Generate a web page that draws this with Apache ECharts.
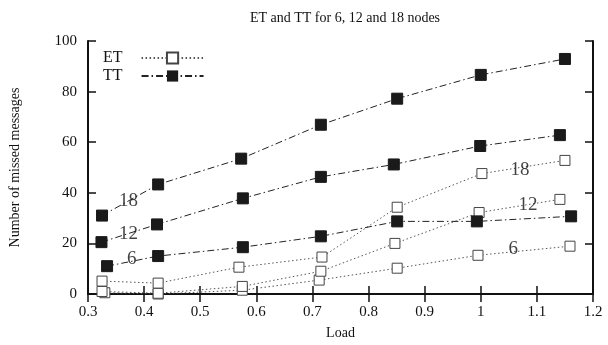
<!DOCTYPE html>
<html>
<head>
<meta charset="utf-8">
<script src="https://cdn.jsdelivr.net/npm/echarts@6/dist/echarts.min.js"></script>
<style>
  html, body { margin: 0; padding: 0; background: #fff; }
  #chart { width: 608px; height: 345px; }
</style>
</head>
<body>
<div id="chart"></div>
<script>
// values, [load, missed]
const et6 = [[0.33, 0.5], [0.425, 0], [0.575, 1.5], [0.712, 5.5], [0.851, 10.2], [0.995, 15.3], [1.159, 18.9]]
const et12 = [[0.325, 1], [0.425, 0.3], [0.575, 3], [0.715, 9], [0.847, 20], [0.997, 32.2], [1.141, 37.4]]
const et18 = [[0.325, 5.1], [0.425, 4.3], [0.569, 10.6], [0.717, 14.6], [0.851, 34.3], [1.002, 47.6], [1.15, 52.8]]
const tt6 = [[0.334, 11], [0.425, 15], [0.576, 18.5], [0.715, 22.8], [0.851, 28.7], [0.993, 28.7], [1.161, 30.7]]
const tt12 = [[0.324, 20.5], [0.423, 27.5], [0.576, 37.8], [0.715, 46.3], [0.845, 51.2], [0.999, 58.5], [1.141, 62.8]]
const tt18 = [[0.325, 31], [0.425, 43.3], [0.573, 53.5], [0.715, 66.9], [0.851, 77.2], [1.0, 86.6], [1.15, 92.9]]
// node count labels placed next to the curves
const nodeLabels = [[0.372, 36.6, '18'], [0.372, 23.6, '12'], [0.378, 13.8, '6'],
                    [1.07, 49, '18'], [1.084, 35, '12'], [1.058, 17.7, '6']]

const font = 'Liberation Serif'
let myChart = echarts.init(document.getElementById('chart'))

function etSeries(data) {
    return {
        name: 'ET',
        type: 'line',
        data: data,
        symbol: 'rect',
        symbolSize: 10,
        z: 3,
        lineStyle: { color: '#555', width: 1, type: [1.5, 2.5] },
        itemStyle: { color: '#fff', borderColor: '#444', borderWidth: 1 }
    }
}
function ttSeries(data) {
    return {
        name: 'TT',
        type: 'line',
        data: data,
        symbol: 'rect',
        symbolSize: 11,
        z: 4,
        lineStyle: { color: '#222', width: 1, type: [7, 3, 1.5, 3] },
        itemStyle: { color: '#1a1a1a', borderColor: '#1a1a1a' }
    }
}

const axisCommon = {
    min: 0,
    axisLine: { show: true, lineStyle: { color: '#111', width: 2 } },
    axisTick: { show: true, inside: true, length: 8, lineStyle: { color: '#111', width: 1.5 } },
    splitLine: { show: false },
    axisLabel: { color: '#111', fontFamily: font, fontSize: 15, margin: 11 }
}

let option = {
    animation: false,
    title: {
        text: 'ET and TT for 6, 12 and 18 nodes',
        left: 340,
        textAlign: 'center',
        top: 6,
        textStyle: { fontFamily: font, fontSize: 14, fontWeight: 'normal', color: '#111' }
    },
    grid: { left: 88, right: 15, top: 41, bottom: 50 },
    legend: {
        data: ['ET', 'TT'],
        orient: 'vertical',
        left: 98,
        top: 45,
        align: 'right',
        itemWidth: 62,
        itemHeight: 14,
        itemGap: 2,
        textStyle: { fontFamily: font, fontSize: 16, color: '#111', padding: [0, 14, 0, 0] }
    },
    xAxis: [
        Object.assign({}, axisCommon, {
            type: 'value', min: 0.3, max: 1.2, interval: 0.1,
            name: 'Load', nameLocation: 'middle', nameGap: 32,
            nameTextStyle: { fontFamily: font, fontSize: 14, color: '#111' },
            axisLabel: { color: '#111', fontFamily: font, fontSize: 15, margin: 11,
                formatter: v => (Math.round(v * 10) / 10).toString() }
        }),
        Object.assign({}, axisCommon, {
            type: 'value', min: 0.3, max: 1.2, interval: 0.1, position: 'top',
            axisLabel: { show: false }
        })
    ],
    yAxis: [
        Object.assign({}, axisCommon, {
            type: 'value', min: 0, max: 100, interval: 20,
            name: 'Number of missed messages', nameLocation: 'middle', nameGap: 66,
            nameTextStyle: { fontFamily: font, fontSize: 14, color: '#111' }
        }),
        Object.assign({}, axisCommon, {
            type: 'value', min: 0, max: 100, interval: 20, position: 'right',
            axisLabel: { show: false }
        })
    ],
    series: [
        etSeries(et6), etSeries(et12), etSeries(et18),
        ttSeries(tt6), ttSeries(tt12), ttSeries(tt18),
        {
            type: 'scatter',
            data: nodeLabels,
            symbolSize: 0,
            silent: true,
            z: 5,
            label: {
                show: true,
                position: 'inside',
                formatter: p => p.data[2],
                fontFamily: font,
                fontSize: 19,
                color: '#111'
            }
        }
    ]
}

myChart.setOption(option)
</script>
</body>
</html>
